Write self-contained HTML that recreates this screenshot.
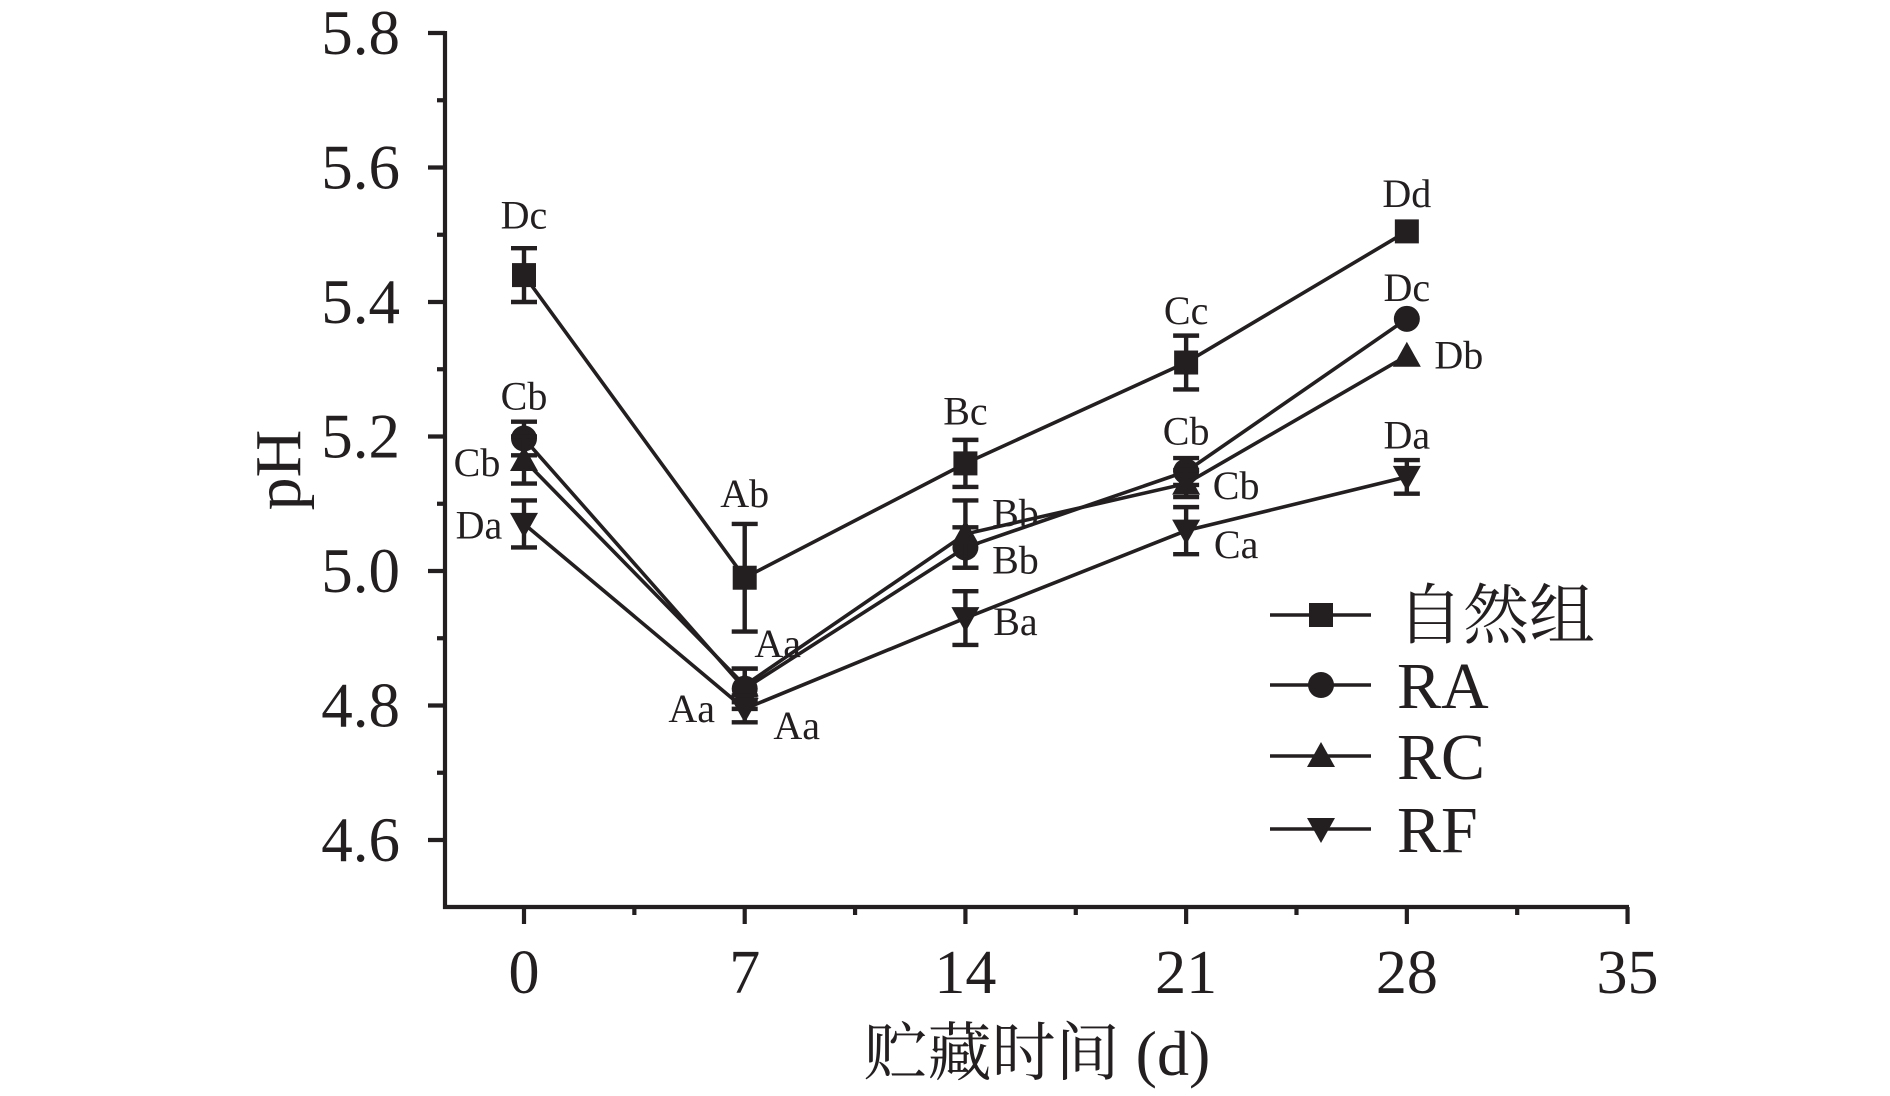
<!DOCTYPE html>
<html><head><meta charset="utf-8"><style>
html,body{margin:0;padding:0;background:#fff;}
svg{display:block;}
text{fill:#231f20;font-family:"Liberation Serif","Noto Serif CJK SC",serif;}
</style></head><body>
<svg id="chart" width="1890" height="1096" viewBox="0 0 1890 1096" xmlns="http://www.w3.org/2000/svg">
<g id="axes"></g>
<g id="series"></g>
<g id="labels"></g>
<g id="legend"></g>
<text transform="translate(300,470) rotate(-90)" text-anchor="middle" font-size="66">pH</text>
<text x="1037" y="1075" text-anchor="middle" font-size="64">贮藏时间 (d)</text>
</svg>
<script>
const days=[0,7,14,21,28];
const seriesNames=['自然组','RA','RC','RF'];
const markers=['square','circle','up','down'];
const valsNatural=[5.44,4.99,5.16,5.31,5.505];
const errNatural=[0.04,0.08,0.035,0.04,0];
const valsRA=[5.197,4.825,5.035,5.148,5.375];
const errRA=[0.025,0.03,0.03,0.02,0];
const valsRC=[5.165,4.83,5.055,5.13,5.32];
const errRC=[0.035,0.025,0.05,0.02,0];
const valsRF=[5.07,4.795,4.93,5.06,5.14];
const errRF=[0.035,0.02,0.04,0.035,0.025];
const yTicks=[4.6,4.8,5.0,5.2,5.4,5.6,5.8];
const yTickLabels=['4.6','4.8','5.0','5.2','5.4','5.6','5.8'];
const xTicks=[0,7,14,21,28,35];
const xTickLabels=['0','7','14','21','28','35'];
const sigText=['Dc','Cb','Cb','Da','Ab','Aa','Aa','Aa','Bc','Bb','Bb','Ba','Cc','Cb','Cb','Ca','Dd','Dc','Db','Da'];
const sigDay=[0,0,0,0,7,7,7,7,14,14,14,14,21,21,21,21,28,28,28,28];
const sigVal=[5.530,5.261,5.162,5.069,5.116,4.893,4.796,4.771,5.239,5.087,5.017,4.926,5.388,5.209,5.128,5.040,5.562,5.422,5.322,5.203];
const sigDx=[0,0,-47,-45,0,33,-53,52,0,50,50,50,0,0,50,50,0,0,52,0];

const C='#231f20';
const NS='http://www.w3.org/2000/svg';
const X=t=>524+t*31.53;
const Y=v=>840-(v-4.6)*672.5;
function mk(tag,attrs,parent){const e=document.createElementNS(NS,tag);for(const k in attrs)e.setAttribute(k,attrs[k]);parent.appendChild(e);return e;}
const axes=document.getElementById('axes');
let e=mk('line',{x1:445,y1:31,x2:445,y2:909,stroke:C,'stroke-width':4.2},axes);


e=mk('line',{x1:443,y1:907,x2:1629,y2:907,stroke:C,'stroke-width':4.2},axes);


for(let v=4.6;v<=5.81;v+=0.1){
  const major=Math.abs(((v-4.6)/0.2)-Math.round((v-4.6)/0.2))<0.01;
  e=mk('line',{x1:445-(major?17:8),y1:Y(v),x2:445,y2:Y(v),stroke:C,'stroke-width':4.2},axes);
  
  
}
yTicks.forEach((v,i)=>{
  e=mk('text',{x:400,y:Y(v)+21,'text-anchor':'end','font-size':63},axes);
  e.textContent=yTickLabels[i];
  
  
});
for(let t=0;t<=35;t+=3.5){
  const major=Math.abs(t/7-Math.round(t/7))<0.01;
  e=mk('line',{x1:X(t),y1:907,x2:X(t),y2:907+(major?17:8),stroke:C,'stroke-width':4.2},axes);
  
  
}
xTicks.forEach((t,i)=>{
  e=mk('text',{x:X(t),y:993,'text-anchor':'middle','font-size':62},axes);
  e.textContent=xTickLabels[i];
  
  
});
function marker(type,cx,cy,parent){
  let m;
  if(type==='square') m=mk('rect',{x:cx-12,y:cy-12,width:24,height:24,fill:C},parent);
  else if(type==='circle') m=mk('circle',{cx:cx,cy:cy,r:13,fill:C},parent);
  else if(type==='up') m=mk('polygon',{points:`${cx-14},${cy+11} ${cx+14},${cy+11} ${cx},${cy-14}`,fill:C},parent);
  else m=mk('polygon',{points:`${cx-14},${cy-11} ${cx+14},${cy-11} ${cx},${cy+14}`,fill:C},parent);
  return m;
}
const allVals=[valsNatural,valsRA,valsRC,valsRF];
const allErr=[errNatural,errRA,errRC,errRF];
const sg=document.getElementById('series');
allVals.forEach((vals,s)=>{
  const g=mk('g',{},sg);
  
  
  const pl=mk('polyline',{points:days.map((d,i)=>X(d)+','+Y(vals[i])).join(' '),fill:'none',stroke:C,'stroke-width':3.6},g);
  
  
  days.forEach((d,i)=>{
    const er=allErr[s][i];
    if(er>0){
      const x=X(d),y1=Y(vals[i]+er),y2=Y(vals[i]-er);
      const eb=mk('path',{d:`M${x},${y1}V${y2}M${x-13},${y1}H${x+13}M${x-13},${y2}H${x+13}`,stroke:C,'stroke-width':4.4,fill:'none'},g);
      
      
    }
    const m=marker(markers[s],X(d),Y(vals[i]),g);
    
    
  });
});
const lg=document.getElementById('labels');
sigText.forEach((t,i)=>{
  e=mk('text',{x:X(sigDay[i])+sigDx[i],y:Y(sigVal[i])+14,'text-anchor':'middle','font-size':40},lg);
  e.textContent=t;
  
  
});
const leg=document.getElementById('legend');
const legY=[615,685,756,829];
seriesNames.forEach((n,i)=>{
  const g=mk('g',{},leg);
  
  
  mk('line',{x1:1270,y1:legY[i],x2:1371,y2:legY[i],stroke:C,'stroke-width':3.6},g);
  marker(markers[i],1321,legY[i],g);
  const t=mk('text',{x:1397,y:legY[i]+23,'font-size':66},g);
  t.textContent=n;
});
</script>
</body></html>
